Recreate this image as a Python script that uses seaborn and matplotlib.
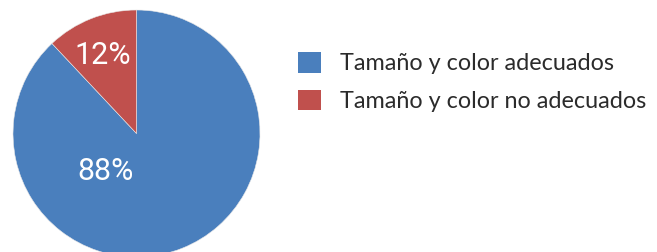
import matplotlib
matplotlib.use("Agg")
import matplotlib.pyplot as plt
import matplotlib.patches as mpatches
import seaborn as sns
import numpy as np

labels = ["Tamaño y color adecuados", "Tamaño y color no adecuados"]
values = [88, 12]
colors = ["#4A7FBD", "#C0504D"]

sns.set_theme(style="white")
plt.rcParams["font.family"] = ["Lato", "DejaVu Sans"]

fig = plt.figure(figsize=(6.57, 2.52), dpi=100)
W, H = 657, 252
cx, cy, r = 136.5, 252 - 133.5, 123.5
ax = fig.add_axes([(cx - r) / W, (cy - r) / H, 2 * r / W, 2 * r / H])

wedges, texts, autotexts = ax.pie(
    values, colors=colors, startangle=90, counterclock=False,
    autopct="%d%%", pctdistance=0.69,
    wedgeprops=dict(linewidth=0.4, edgecolor="#e8e8e8"),
    textprops=dict(color="white", fontsize=22, fontweight="normal",
                   family=["Roboto", "DejaVu Sans"]),
)
ax.set_xlim(-1, 1)
ax.set_ylim(-1, 1)
ax.set_aspect("equal")
for w in wedges:
    w.set_clip_on(False)

# the big label sits left of its wedge middle
ang = np.deg2rad(230.7)
autotexts[0].set_position((0.40 * np.cos(ang), 0.40 * np.sin(ang)))
ang = np.deg2rad(113)
autotexts[1].set_position((0.69 * np.cos(ang), 0.69 * np.sin(ang)))

handles = [mpatches.Patch(facecolor=c, edgecolor="none") for c in colors]
fig.legend(handles, labels, loc="upper left", bbox_to_anchor=(291 / W, 1 - 45 / H),
           frameon=False, fontsize=16.8, handlelength=1.0, handleheight=1.0,
           handletextpad=0.8, labelspacing=0.65, labelcolor="#2b2b2b",
           borderaxespad=0, borderpad=0.3)

fig.savefig("out.png", dpi=100)
